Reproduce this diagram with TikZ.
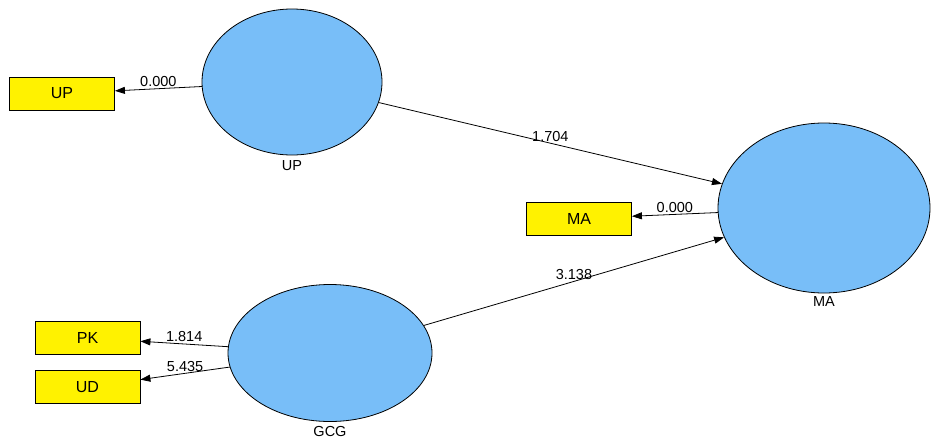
\documentclass[tikz,border=0pt]{standalone}
\usepackage{fontspec}
\setmainfont{Liberation Sans}
\usepackage{tikz}
\usetikzlibrary{arrows.meta, shapes.geometric}
\definecolor{latblue}{RGB}{120,190,248}

\begin{document}
\begin{tikzpicture}[x=1pt, y=-1pt,
    font=\fontsize{14.5}{16}\selectfont,
    latent/.style={ellipse, draw, fill=latblue, line width=0.8pt, inner sep=0pt},
    indik/.style={rectangle, draw, fill=yellow, line width=0.8pt,
        minimum width=105pt, minimum height=33pt, inner sep=0pt,
        font=\fontsize{16}{18}\selectfont},
    arr/.style={-{Triangle[length=10pt,width=7pt]}, line width=0.8pt},
    coef/.style={above, inner sep=1.5pt}]
    \useasboundingbox (0,0) rectangle (931,442);

    % 潜变量
    \node[latent, minimum width=180pt, minimum height=146pt,
        label={[label distance=2pt]below:UP}] (UP) at (292,82) {};
    \node[latent, minimum width=212pt, minimum height=170pt,
        label={[label distance=0pt]below:MA}] (MA) at (824,208) {};
    \node[latent, minimum width=204pt, minimum height=137pt,
        label={[label distance=1pt]below:GCG}] (GCG) at (330,353) {};

    % 指标
    \node[indik] (UPi) at (62,93.5) {UP};
    \node[indik] (MAi) at (579,218.5) {MA};
    \node[indik] (PK) at (87.5,338) {PK};
    \node[indik] (UD) at (87.5,387) {UD};

    % 路径与系数
    \foreach \a/\b/\v in {UP/UPi/0.000, UP/MA/1.704, MA/MAi/0.000,
        GCG/MA/3.138, GCG/PK/1.814, GCG/UD/5.435}
    {
        \draw[arr] (\a) -- node[coef] {\v} (\b);
    }
\end{tikzpicture}
\end{document}
